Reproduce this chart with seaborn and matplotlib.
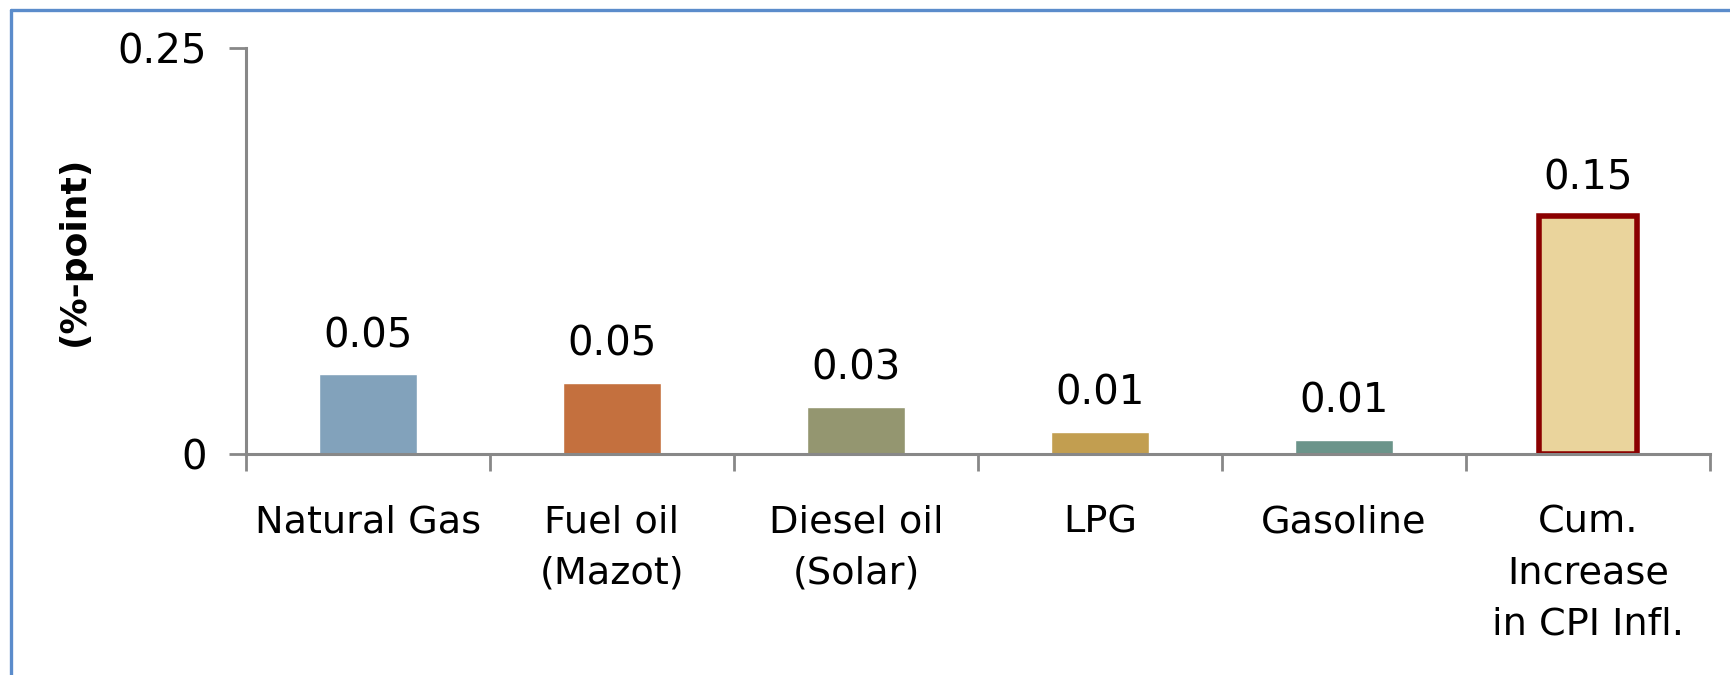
import matplotlib
matplotlib.use("Agg")
import matplotlib.pyplot as plt
import seaborn as sns
import pandas as pd
from matplotlib.lines import Line2D

categories = ["Natural Gas", "Fuel oil\n(Mazot)", "Diesel oil\n(Solar)", "LPG", "Gasoline",
              "Cum.\nIncrease\nin CPI Infl."]
values = [0.049, 0.044, 0.029, 0.0137, 0.0089, 0.1465]
value_labels = ["0.05", "0.05", "0.03", "0.01", "0.01", "0.15"]
colors = ["#82A2BB", "#C4703E", "#949670", "#C29E50", "#6B948A", "#EAD49C"]
yticks = [0, 0.25]
ytick_labels = ["0", "0.25"]

sns.set_style("white")
plt.rcParams["font.family"] = ["DejaVu Sans"]

df = pd.DataFrame({"cat": categories, "val": values})
fig = plt.figure(figsize=(17.31, 6.75), dpi=100)
ax_left = 246 / 1731
ax_right = 1710 / 1731
ax = fig.add_axes([ax_left, 0.3274, ax_right - ax_left, 0.9289 - 0.3274])

sns.barplot(data=df, x="cat", y="val", hue="cat", palette=colors, legend=False,
            width=0.40, ax=ax, saturation=1)

last = ax.patches[-1]
last.set_edgecolor("#8B0000")
last.set_linewidth(4)

for p, lab in zip(ax.patches, value_labels):
    ax.annotate(lab, (p.get_x() + p.get_width() / 2, p.get_height()),
                xytext=(0, 13), textcoords="offset points",
                ha="center", va="bottom", fontsize=29, color="black")

ax.set_ylim(0, 0.25)
ax.set_xlim(-0.5, len(categories) - 0.5)
ax.set_yticks(yticks)
ax.set_yticklabels(ytick_labels, fontsize=29, color="black")
ax.set_xticks(range(len(categories)))
ax.set_xticklabels(categories, fontsize=27.5, color="black", linespacing=1.55)
ax.set_xticks([i - 0.5 for i in range(len(categories) + 1)], minor=True)
ax.tick_params(axis="x", which="major", length=0, pad=36, bottom=True)
ax.tick_params(axis="x", which="minor", length=12, width=2, color="#888888",
               direction="out", bottom=True)
ax.tick_params(axis="y", which="major", length=12, width=2, color="#888888",
               direction="out", pad=16, left=True)
ax.set_xlabel("")
ax.set_ylabel("(%-point)", fontsize=26, fontweight="bold", color="black")
ax.yaxis.set_label_coords(-0.106, 0.5)

for s in ["top", "right"]:
    ax.spines[s].set_visible(False)
for s in ["left", "bottom"]:
    ax.spines[s].set_color("#888888")
    ax.spines[s].set_linewidth(2.2)

x0 = 11 / 1731
y0 = 1 - 10 / 675
fig.add_artist(Line2D([x0, 1.0], [y0, y0], color="#5B8CCB", linewidth=2.4, transform=fig.transFigure))
fig.add_artist(Line2D([x0, x0], [0.0, y0], color="#5B8CCB", linewidth=2.4, transform=fig.transFigure))

fig.savefig("out.png", dpi=100)
